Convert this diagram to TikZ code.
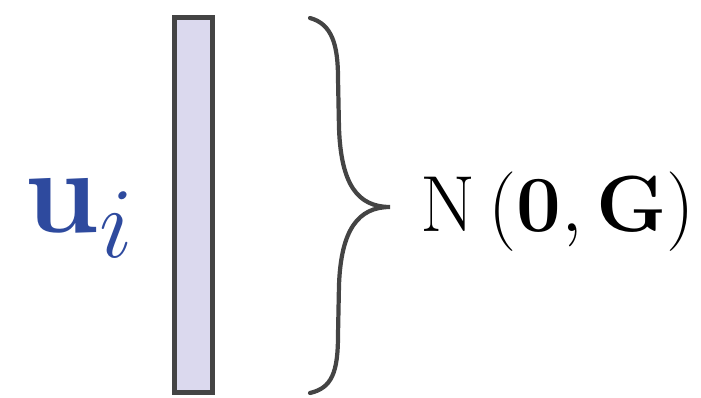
\documentclass[tikz,border=0pt]{standalone}
\usepackage{amsmath}
\usepackage{graphicx}
\usepackage{tikz}
\usetikzlibrary{positioning}
\definecolor{vecblue}{RGB}{46,74,158}
\definecolor{barfill}{RGB}{219,217,238}
\definecolor{edgegray}{RGB}{68,68,68}

\begin{document}
\begin{tikzpicture}[x=0.02cm,y=-0.02cm,
  bar/.style={draw=edgegray, fill=barfill, line width=2.8pt},
  brace/.style={draw=edgegray, line width=2.4pt, line cap=round},
  lbl/.style={inner sep=0pt, anchor=base west, font=\Huge}]
\useasboundingbox (0,0) rectangle (701,398);
\draw[bar] (174.5,17.5) rectangle (212.5,392.5);
\node (u) [lbl, text=vecblue] at (24,233) {\scalebox{2.75}{$\mathbf{u}_i$}};
\coordinate (tip) at (390,207);
\draw[brace] (310,18) .. controls (332,24) and (338,45) .. (338,78)
  -- (339,128) .. controls (341,185) and (358,207) .. (tip)
  .. controls (358,207) and (341,230) .. (339,285)
  -- (338,335) .. controls (338,372) and (332,388) .. (310,393);
\node (dist) [lbl] at (420,232) {\scalebox{1.82}{$\mathrm{N}\left(\mathbf{0},\mathbf{G}\right)$}};
\end{tikzpicture}
\end{document}
